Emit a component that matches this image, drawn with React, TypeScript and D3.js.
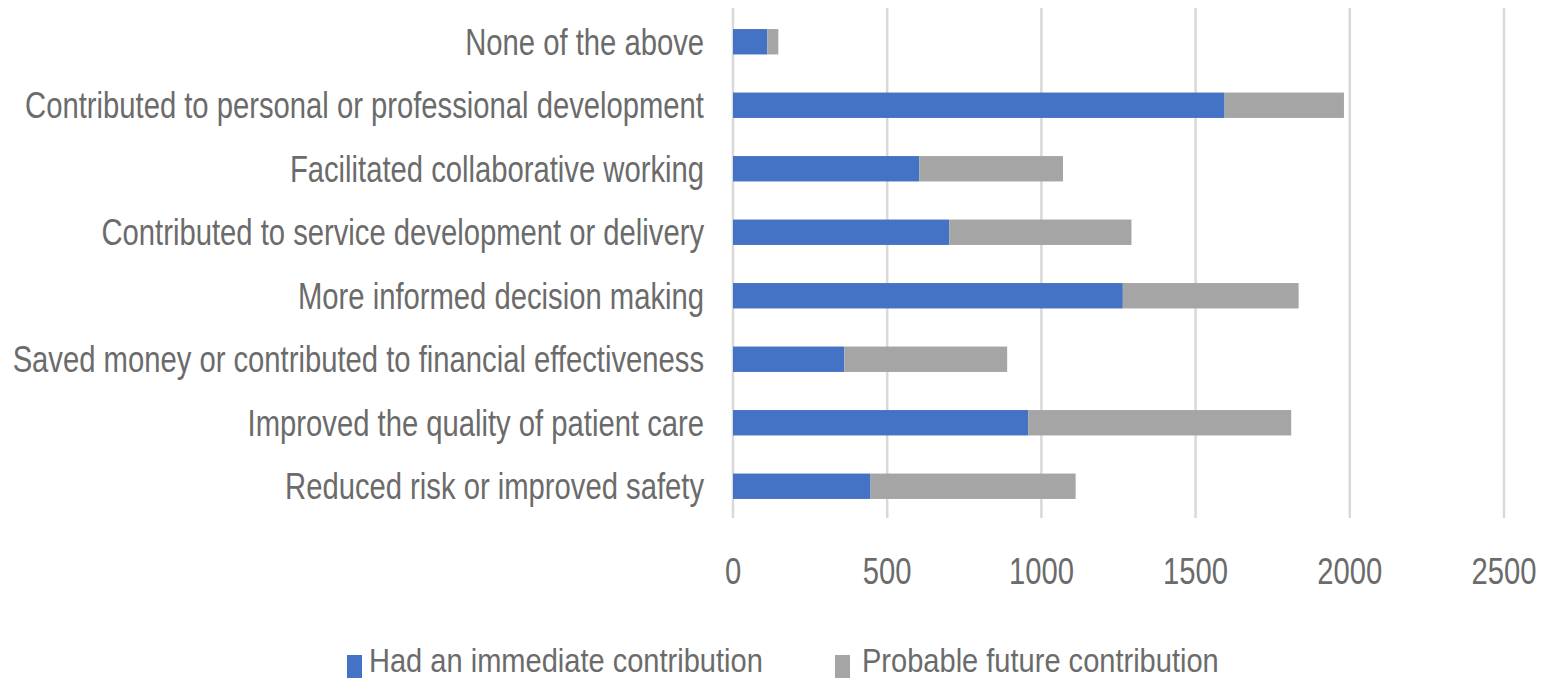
import React from "react";
import * as d3 from "d3";

const categories = [
  "None of the above",
  "Contributed to personal or professional development",
  "Facilitated collaborative working",
  "Contributed to service development or delivery",
  "More informed decision making",
  "Saved money or contributed to financial effectiveness",
  "Improved the quality of patient care",
  "Reduced risk or improved safety",
];
const immediate = [111, 1594, 604, 701, 1264, 361, 957, 446];
const future = [36, 387, 466, 591, 570, 528, 853, 665];
const seriesNames = ["Had an immediate contribution", "Probable future contribution"];
const seriesColors = ["#4472C4", "#A5A5A5"];
const xTicks = [0, 500, 1000, 1500, 2000, 2500];

const W = 1549;
const H = 681;
const SX = 0.79;
const FONT = "'Liberation Sans', Arial, sans-serif";
const TEXT = "#6b6b6b";

export default function App() {
  const x = d3.scaleLinear().domain([0, 2500]).range([733, 1504]);
  const y = d3.scaleBand<string>().domain(categories).range([10, 518]).paddingInner(0.6).paddingOuter(0.3);
  const stack = d3.stack<number>().keys(["0", "1"]).value((i, k) => (k === "0" ? immediate[i] : future[i]));
  const layers = stack(d3.range(categories.length));

  const label = (tx: number, ty: number, s: string, anchor: string, key: string, size = 37, sx = SX) => (
    <text
      key={key}
      transform={`translate(${tx},${ty}) scale(${sx},1)`}
      textAnchor={anchor as any}
      dominantBaseline="central"
      fontFamily={FONT}
      fontSize={size}
      fill={TEXT}
    >
      {s}
    </text>
  );

  return (
    <svg width={W} height={H} style={{ position: "absolute", left: 0, top: 0, background: "#fff" }}>
      {xTicks.map((t) => (
        <line key={"g" + t} x1={x(t)} x2={x(t)} y1={8} y2={518} stroke="#d9d9d9" strokeWidth={2.5} />
      ))}
      {layers.map((layer, li) =>
        layer.map((d, i) => (
          <rect
            key={li + "-" + i}
            x={x(d[0])}
            y={y(categories[i])!}
            width={x(d[1]) - x(d[0])}
            height={y.bandwidth()}
            fill={seriesColors[li]}
          />
        ))
      )}
      {categories.map((c) => label(704, y(c)! + y.bandwidth() / 2, c, "end", "c" + c))}
      {xTicks.map((t) => label(x(t), 571, String(t), "middle", "t" + t))}
      {/* legend */}
      <rect x={347} y={655} width={15} height={23} fill={seriesColors[0]} />
      {label(369, 661, seriesNames[0], "start", "l0", 33, 0.88)}
      <rect x={835} y={655} width={15} height={23} fill={seriesColors[1]} />
      {label(862, 661, seriesNames[1], "start", "l1", 33, 0.88)}
    </svg>
  );
}
